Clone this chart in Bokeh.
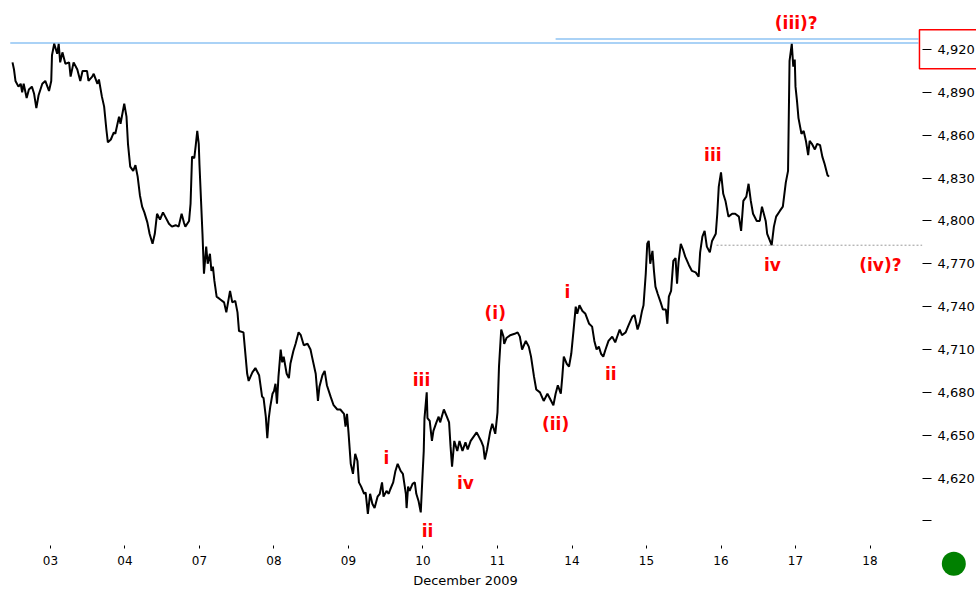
from bokeh.plotting import figure
from bokeh.models import FixedTicker, BoxAnnotation, ColumnDataSource, Range1d
from bokeh.embed import file_html
from bokeh.resources import INLINE
from bokeh.core.properties import value

# ---- price series (trading-day position, 0 = Dec 03) ----
day_pos = [
    -0.51, -0.49, -0.47, -0.43, -0.40, -0.38, -0.36, -0.32, -0.29, -0.25,
    -0.22, -0.19, -0.16, -0.11, -0.07, -0.02, 0.01, 0.02, 0.05, 0.09,
    0.11, 0.13, 0.16, 0.20, 0.25, 0.27, 0.31, 0.36, 0.40, 0.43,
    0.49, 0.51, 0.56, 0.58, 0.63, 0.65, 0.69, 0.72, 0.75, 0.77,
    0.81, 0.85, 0.87, 0.92, 0.94, 0.99, 1.02, 1.04, 1.07, 1.11,
    1.14, 1.17, 1.20, 1.23, 1.26, 1.30, 1.33, 1.37, 1.40, 1.43,
    1.47, 1.51, 1.54, 1.59, 1.63, 1.68, 1.72, 1.76, 1.79, 1.81,
    1.86, 1.88, 1.90, 1.93, 1.95, 1.97, 1.99, 2.00, 2.04, 2.06,
    2.09, 2.11, 2.14, 2.16, 2.18, 2.20, 2.23, 2.28, 2.33, 2.36,
    2.41, 2.44, 2.48, 2.51, 2.53, 2.59, 2.64, 2.66, 2.71, 2.75,
    2.80, 2.84, 2.86, 2.89, 2.91, 2.93, 2.95, 2.98, 3.00, 3.02,
    3.04, 3.06, 3.09, 3.11, 3.13, 3.17, 3.20, 3.22, 3.26, 3.29,
    3.33, 3.36, 3.40, 3.45, 3.49, 3.51, 3.56, 3.59, 3.61, 3.65,
    3.68, 3.71, 3.76, 3.80, 3.85, 3.89, 3.94, 3.96, 3.98, 4.00,
    4.03, 4.06, 4.09, 4.12, 4.14, 4.17, 4.21, 4.23, 4.26, 4.29,
    4.32, 4.35, 4.39, 4.42, 4.45, 4.47, 4.51, 4.54, 4.56, 4.60,
    4.63, 4.66, 4.70, 4.73, 4.77, 4.78, 4.80, 4.82, 4.86, 4.89,
    4.91, 4.94, 4.97, 4.99, 5.01, 5.02, 5.05, 5.06, 5.09, 5.12,
    5.14, 5.18, 5.21, 5.23, 5.28, 5.32, 5.35, 5.37, 5.39, 5.42,
    5.46, 5.49, 5.53, 5.57, 5.60, 5.64, 5.68, 5.72, 5.75, 5.78,
    5.81, 5.83, 5.86, 5.90, 5.93, 5.97, 6.00, 6.02, 6.05, 6.08,
    6.09, 6.12, 6.17, 6.23, 6.27, 6.30, 6.33, 6.38, 6.42, 6.45,
    6.49, 6.52, 6.57, 6.62, 6.67, 6.70, 6.75, 6.78, 6.81, 6.85,
    6.87, 6.89, 6.93, 6.96, 6.99, 7.02, 7.05, 7.07, 7.10, 7.14,
    7.18, 7.23, 7.27, 7.30, 7.33, 7.36, 7.39, 7.42, 7.45, 7.49,
    7.54, 7.58, 7.64, 7.67, 7.72, 7.76, 7.81, 7.84, 7.88, 7.91,
    7.94, 7.96, 7.99, 8.01, 8.03, 8.05, 8.08, 8.10, 8.12, 8.15,
    8.19, 8.22, 8.26, 8.28, 8.30, 8.33, 8.36, 8.39, 8.41, 8.43,
    8.46, 8.49, 8.52, 8.57, 8.61, 8.66, 8.70, 8.72, 8.75, 8.78,
    8.81, 8.85, 8.88, 8.93, 8.95, 8.97, 9.00, 9.03, 9.06, 9.10,
    9.15, 9.19, 9.24, 9.27, 9.30, 9.34, 9.37, 9.40, 9.43, 9.48,
    9.52, 9.55, 9.60, 9.62, 9.68, 9.71, 9.74, 9.79, 9.83, 9.87,
    9.90, 9.92, 9.95, 9.97, 9.99, 10.00, 10.02, 10.04, 10.08, 10.11,
    10.14, 10.17, 10.19, 10.22, 10.26, 10.29, 10.33, 10.36, 10.39, 10.43,
    10.45,
]
rate = [
    4911, 4906, 4898, 4894, 4896, 4890, 4896, 4886, 4892, 4894,
    4889, 4879, 4888, 4896, 4898, 4891, 4898, 4916, 4924, 4917,
    4924, 4911, 4918, 4910, 4911, 4901, 4911, 4906, 4898, 4905,
    4905, 4898, 4901, 4903, 4896, 4899, 4887, 4880, 4864, 4855,
    4857, 4862, 4861, 4873, 4868, 4882, 4873, 4854, 4838, 4835,
    4839, 4831, 4818, 4810, 4806, 4799, 4791, 4784, 4791, 4805,
    4801, 4806, 4803, 4798, 4796, 4797, 4796, 4805, 4799, 4796,
    4800, 4812, 4845, 4844, 4853, 4863, 4854, 4839, 4791, 4763,
    4782, 4770, 4777, 4765, 4768, 4758, 4747, 4745, 4743, 4736,
    4751, 4743, 4744, 4736, 4723, 4722, 4693, 4688, 4694, 4697,
    4692, 4677, 4676, 4663, 4648, 4662, 4670, 4679, 4681, 4686,
    4672, 4691, 4710, 4701, 4705, 4693, 4690, 4700, 4709, 4714,
    4722, 4720, 4713, 4714, 4710, 4705, 4693, 4674, 4684, 4692,
    4695, 4685, 4677, 4671, 4668, 4668, 4665, 4656, 4665, 4652,
    4630, 4623, 4637, 4632, 4617, 4614, 4609, 4610, 4595, 4609,
    4602, 4599, 4607, 4609, 4617, 4607, 4611, 4609, 4612, 4617,
    4625, 4630, 4625, 4623, 4609, 4599, 4614, 4611, 4616, 4617,
    4609, 4604, 4596, 4618, 4639, 4662, 4680, 4662, 4660, 4646,
    4653, 4659, 4663, 4659, 4668, 4663, 4659, 4642, 4628, 4646,
    4639, 4646, 4639, 4645, 4640, 4646, 4649, 4652, 4649, 4646,
    4642, 4633, 4640, 4652, 4658, 4651, 4666, 4698, 4724, 4719,
    4714, 4718, 4720, 4721, 4722, 4719, 4710, 4716, 4712, 4705,
    4691, 4682, 4680, 4674, 4679, 4676, 4671, 4679, 4685, 4679,
    4691, 4705, 4700, 4698, 4707, 4723, 4740, 4735, 4741, 4737,
    4735, 4728, 4726, 4716, 4710, 4712, 4707, 4705, 4710, 4716,
    4719, 4715, 4724, 4720, 4722, 4727, 4733, 4734, 4724, 4729,
    4737, 4741, 4763, 4784, 4786, 4770, 4779, 4765, 4754, 4749,
    4743, 4738, 4738, 4728, 4747, 4751, 4772, 4774, 4756, 4771,
    4784, 4780, 4775, 4769, 4765, 4764, 4761, 4778, 4789, 4793,
    4782, 4778, 4786, 4791, 4805, 4824, 4834, 4819, 4814, 4803,
    4805, 4805, 4803, 4793, 4814, 4817, 4826, 4814, 4805, 4800,
    4800, 4810, 4800, 4791, 4783, 4796, 4803, 4807, 4810, 4827,
    4835, 4912, 4924, 4908, 4913, 4894, 4884, 4872, 4861, 4863,
    4856, 4846, 4856, 4854, 4850, 4854, 4853, 4845, 4840, 4832,
    4831,
]

# ---- axes ----
x_tick_pos = [0, 1, 2, 3, 4, 5, 6, 7, 8, 9, 10, 11]
x_tick_labels = ["03", "04", "07", "08", "09", "10", "11", "14", "15", "16", "17", "18"]
y_tick_pos = [4590, 4620, 4650, 4680, 4710, 4740, 4770, 4800, 4830, 4860, 4890, 4920]
y_tick_labels = ["", "4,620", "4,650", "4,680", "4,710", "4,740", "4,770",
                 "4,800", "4,830", "4,860", "4,890", "4,920"]
axis_day_span = (-0.564, 11.705)     # extent of the dated axis
price_axis_day = 11.705              # where the price scale sits
date_axis_rate = 4572.8              # where the date scale sits

# ---- reference levels ----
high_line_day = [-0.54, 11.65]
high_line_rate = [4924.5, 4924.5]
high_line2_day = [6.78, 11.65]
high_line2_rate = [4927.3, 4927.3]
iv_line_day = [8.94, 11.70]
iv_line_rate = [4783, 4783]

# ---- wave annotations ----
wave_text = ["(iii)?", "iii", "iv", "(iv)?", "i", "(i)", "ii", "(ii)", "iii", "i", "iv", "ii"]
wave_day = [10.01, 8.89, 9.69, 11.14, 6.94, 5.97, 7.52, 6.78, 4.98, 4.51, 5.57, 5.06]
wave_rate = [4938.5, 4846, 4769.5, 4769, 4750.6, 4735.9, 4693.2, 4658.2, 4689, 4634.4, 4616.9, 4583.3]

p = figure(width=976, height=593,
           x_range=Range1d(-0.6711, 12.4295), y_range=Range1d(4539.2, 4954.3),
           output_backend="svg", toolbar_location=None,
           y_axis_location="right",
           min_border_left=0, min_border_right=0, min_border_top=0, min_border_bottom=0)
p.outline_line_color = None
p.background_fill_color = "white"
p.border_fill_color = "white"
p.xgrid.grid_line_color = None
p.ygrid.grid_line_color = None

p.line(high_line_day, high_line_rate, line_color="#8ec3f3", line_width=1.5)
p.line(high_line2_day, high_line2_rate, line_color="#8ec3f3", line_width=1.5)
p.line(iv_line_day, iv_line_rate, line_color="#9a9a9a", line_width=1, line_dash="2 2")

p.line(day_pos, rate, line_color="black", line_width=2)

src = ColumnDataSource(dict(x=wave_day, y=wave_rate, t=wave_text))
p.text(x="x", y="y", text="t", source=src, text_color="#ff0000",
       text_font=value("DejaVu Sans"), text_font_style="bold", text_font_size="17px",
       text_align="center", text_baseline="middle")

xa = p.xaxis[0]
xa.fixed_location = date_axis_rate
xa.bounds = axis_day_span
xa.ticker = FixedTicker(ticks=x_tick_pos)
xa.major_label_overrides = dict(zip(x_tick_pos, x_tick_labels))
xa.axis_line_color = None
xa.major_tick_in = 0
xa.major_tick_out = 3
xa.major_tick_line_color = "black"
xa.minor_tick_line_color = None
xa.major_label_standoff = 7
xa.major_label_text_font = "DejaVu Sans"
xa.major_label_text_font_size = "12px"
xa.major_label_text_color = "black"
xa.axis_label = "December 2009"
xa.axis_label_text_font = "DejaVu Sans"
xa.axis_label_text_font_style = "normal"
xa.axis_label_text_font_size = "13px"
xa.axis_label_text_color = "black"
xa.axis_label_standoff = 5

ya = p.yaxis[0]
ya.fixed_location = price_axis_day
ya.ticker = FixedTicker(ticks=y_tick_pos)
ya.major_label_overrides = dict(zip(y_tick_pos, y_tick_labels))
ya.axis_line_color = None
ya.major_tick_in = 0
ya.major_tick_out = 9
ya.major_tick_line_color = "black"
ya.minor_tick_line_color = None
ya.major_label_standoff = 6
ya.major_label_text_font = "DejaVu Sans"
ya.major_label_text_font_size = "13px"
ya.major_label_text_color = "black"

# red frame around the last-high price label
box = BoxAnnotation(left=11.664, right=12.45, bottom=4906.5, top=4933.8,
                    fill_alpha=0, line_color="#ff0000", line_alpha=1, line_width=1.5)
p.add_layout(box)
# green status dot in the lower-right corner
dot = BoxAnnotation(left=11.964, right=12.286, bottom=4551.6, top=4568.4,
                    fill_color="#008000", fill_alpha=1, line_color=None, border_radius=12)
p.add_layout(dot)

open("out.html", "w").write(file_html(p, INLINE))
